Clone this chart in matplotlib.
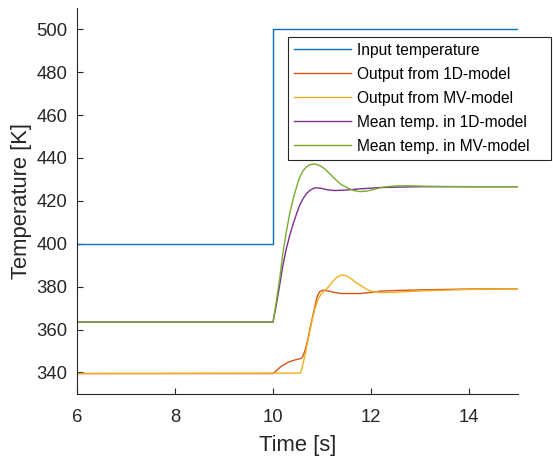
import numpy as np
import matplotlib
matplotlib.use('Agg')
import matplotlib.pyplot as plt

plt.rcParams['font.family'] = ['Liberation Sans', 'DejaVu Sans']

# step input
t_in = [6, 10, 10, 15]
T_in = [400, 400, 500, 500]

# outlet temperature, 1D model
t_out1d = [6, 10.0, 10.07, 10.17, 10.31, 10.44, 10.58, 10.61, 10.66, 10.71, 10.78,
           10.85, 10.90, 10.95, 11.02, 11.12, 11.26, 11.39, 11.53, 11.78, 12.0,
           12.18, 12.5, 13.0, 14.0, 15.0]
T_out1d = [339.5, 339.5, 340.9, 342.9, 344.8, 345.8, 346.6, 347.6, 350.8, 355.4, 363.2,
           370.3, 375.4, 377.6, 378.4, 378.0, 377.3, 376.8, 376.8, 376.8, 377.3,
           377.9, 378.2, 378.5, 378.9, 379.0]

# outlet temperature, MV model
t_outmv = [6, 10.56, 10.60, 10.65, 10.71, 10.78, 10.85, 10.92, 10.99, 11.05, 11.12,
           11.19, 11.26, 11.33, 11.41, 11.50, 11.60, 11.70, 11.78, 11.88, 11.98,
           12.18, 12.45, 13.0, 14.0, 15.0]
T_outmv = [339.5, 339.7, 342.9, 347.6, 354.6, 362.5, 369.3, 374.2, 376.8, 378.0, 379.6,
           381.6, 383.5, 384.8, 385.5, 385.0, 383.6, 381.8, 380.7, 379.2, 378.0,
           377.3, 377.3, 378.0, 378.7, 379.0]

# mean temperature, 1D model
t_mean1d = [6, 10.0, 10.07, 10.14, 10.20, 10.27, 10.34, 10.41, 10.48, 10.54, 10.61,
            10.68, 10.75, 10.82, 10.88, 10.99, 11.12, 11.26, 11.53, 11.78, 12.18,
            13.0, 15.0]
T_mean1d = [363.5, 363.5, 371.8, 381.2, 389.7, 397.5, 403.8, 409.2, 413.9, 417.8, 420.9,
            423.3, 424.8, 425.8, 426.1, 425.8, 425.1, 424.8, 425.1, 425.6, 426.2,
            426.6, 426.6]

# mean temperature, MV model
t_meanmv = [6, 10.0, 10.07, 10.14, 10.20, 10.27, 10.34, 10.41, 10.48, 10.54, 10.61,
            10.68, 10.75, 10.85, 10.95, 11.05, 11.16, 11.26, 11.39, 11.53, 11.65,
            11.78, 11.92, 12.05, 12.25, 12.52, 12.80, 13.1, 13.5, 14.0, 15.0]
T_meanmv = [363.5, 363.5, 373.4, 384.3, 395.2, 405.4, 413.9, 420.9, 426.4, 430.8, 433.9,
            435.8, 436.8, 437.2, 436.5, 435.0, 432.6, 430.3, 427.6, 425.9, 424.8,
            424.3, 424.6, 425.3, 426.4, 427.0, 427.0, 426.8, 426.7, 426.6, 426.6]

labels = ['Input temperature', 'Output from 1D-model', 'Output from MV-model',
          'Mean temp. in 1D-model', 'Mean temp. in MV-model']
colors = ['#0072BD', '#D95319', '#EDB120', '#7E2F8E', '#77AC30']

fig = plt.figure(figsize=(5.53, 4.57), dpi=100)
ax = fig.add_axes([0.139, 0.138, 0.798, 0.845])

series = [(t_in, T_in), (t_out1d, T_out1d), (t_outmv, T_outmv),
          (t_mean1d, T_mean1d), (t_meanmv, T_meanmv)]
for (t, T), lab, c in zip(series, labels, colors):
    ax.plot(t, T, color=c, lw=1.0, label=lab)

ax.set_xlim(6, 15)
ax.set_ylim(330, 510)
ax.set_xticks(np.arange(6, 15, 2))
ax.set_yticks(np.arange(340, 501, 20))

ax.spines['top'].set_visible(False)
ax.spines['right'].set_visible(False)
for s in ['left', 'bottom']:
    ax.spines[s].set_color('#262626')
    ax.spines[s].set_linewidth(0.8)
ax.tick_params(direction='in', length=4, width=0.8, colors='#262626', labelsize=13.3)
ax.tick_params(axis='x', pad=11)
ax.tick_params(axis='y', pad=7)

ax.set_xlabel('Time [s]', fontsize=15.8, color='#262626', labelpad=6)
ax.set_ylabel('Temperature [K]', fontsize=15.8, color='#262626', labelpad=3)

leg = ax.legend(loc='upper left', bbox_to_anchor=(0.478, 0.925, 0.597, 0),
                mode='expand', borderaxespad=0, fontsize=11.2, handlelength=3.7,
                handletextpad=0.35, labelspacing=0.58, borderpad=0.38,
                fancybox=False, framealpha=1)
leg.get_frame().set_edgecolor('#262626')
leg.get_frame().set_linewidth(0.8)

fig.savefig('out.png', dpi=100)
